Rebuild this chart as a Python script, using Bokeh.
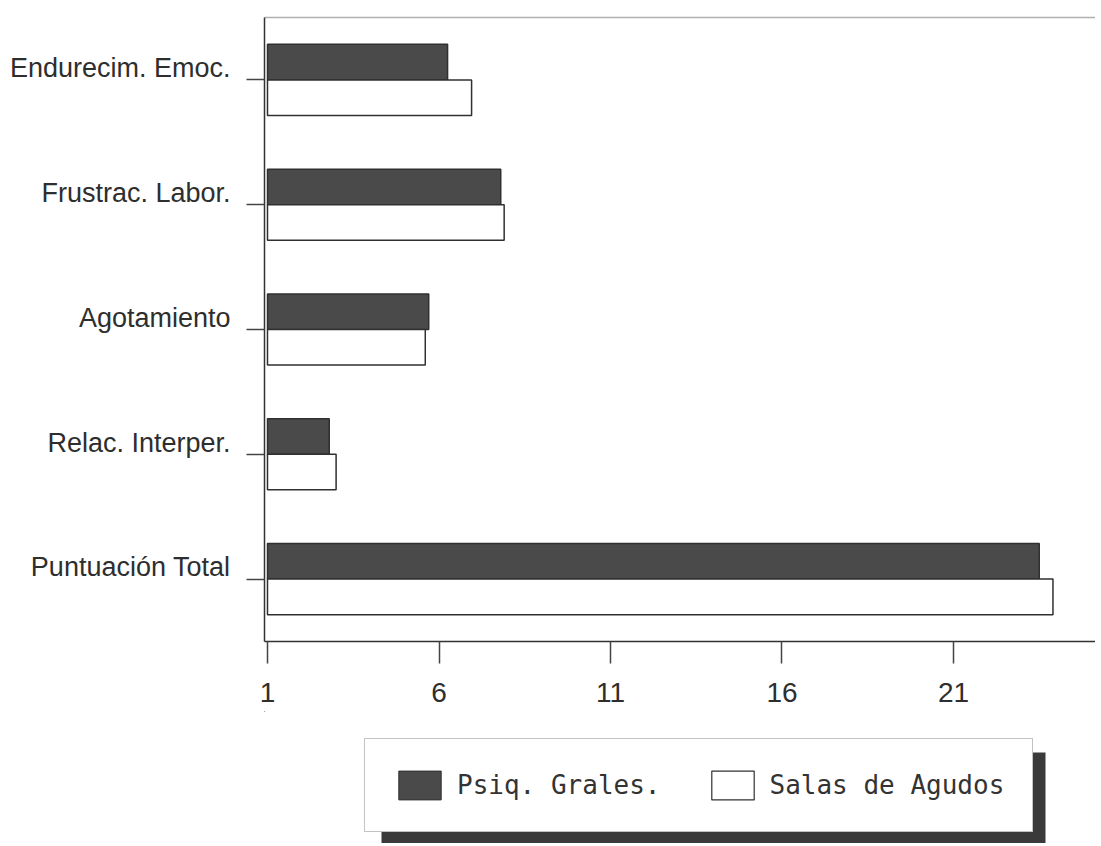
from bokeh.plotting import figure
from bokeh.models import (Range1d, FixedTicker, LinearAxis, Legend,
                          LegendItem, ColumnDataSource, CustomLabelingPolicy)
from bokeh.transform import dodge
from bokeh.layouts import column
from bokeh.embed import file_html
from bokeh.resources import INLINE

# ---- data ----
categories = ["Endurecim. Emoc.", "Frustrac. Labor.", "Agotamiento",
              "Relac. Interper.", "Puntuación Total"]
psiq_grales = [6.25, 7.8, 5.7, 2.8, 23.5]
salas_agudos = [6.95, 7.9, 5.6, 3.0, 23.9]
x_ticks = [1, 6, 11, 16, 21]
series_names = ["Psiq. Grales.", "Salas de Agudos"]

DARK = "#4a4a4a"
EDGE = "#303030"
TXT = "#2e2e2e"

n = len(categories)
# category slots on the y scale, first category at the top
slot = [n - 0.5 - i for i in range(n)]

p = figure(width=1095, height=711,
           y_range=Range1d(0, n),
           x_range=Range1d(0.9125, 25.14),
           output_backend="svg", toolbar_location=None,
           min_border_left=264, min_border_top=17,
           min_border_right=0, min_border_bottom=70)

src = ColumnDataSource(dict(cat=categories, pos=slot, psiq=psiq_grales, salas=salas_agudos))
p.hbar(y=dodge("pos", 0.1425), left=x_ticks[0], right="psiq",
       height=0.285, source=src, fill_color=DARK, line_color=EDGE, line_width=1.5)
p.hbar(y=dodge("pos", -0.1425), left=x_ticks[0], right="salas",
       height=0.285, source=src, fill_color="white", line_color=EDGE, line_width=1.5)

p.xgrid.visible = False
p.ygrid.visible = False
p.outline_line_color = None
p.background_fill_color = "white"

# x axis
p.xaxis.ticker = FixedTicker(ticks=x_ticks)
p.xaxis.major_tick_out = 22
p.xaxis.major_tick_in = 0
p.xaxis.minor_tick_out = 0
p.xaxis.minor_tick_in = 0
p.xaxis.major_label_text_font = "Liberation Sans"
p.xaxis.major_label_text_font_size = "28px"
p.xaxis.major_label_text_color = TXT
p.xaxis.major_label_standoff = 19

# y axis: tick marks at each category, no labels of its own
no_labels = CustomLabelingPolicy(code="""
const all = [...indices]
for (const i of all) indices.unset(i)
return indices
""")
p.yaxis.ticker = FixedTicker(ticks=slot)
p.yaxis.major_tick_out = 18
p.yaxis.major_tick_in = 0
p.yaxis.minor_tick_out = 0
p.yaxis.minor_tick_in = 0
p.yaxis.major_label_standoff = 0
p.yaxis.major_label_text_font_size = "1px"
p.yaxis.major_label_overrides = {s: " " for s in slot}
p.yaxis.major_label_policy = no_labels

for ax in (p.xaxis[0], p.yaxis[0]):
    ax.axis_line_color = "#333333"
    ax.axis_line_width = 1.5
    ax.major_tick_line_color = "#444444"
    ax.major_tick_line_width = 1.5

# category names: a label-only axis, text sitting on each tick mark
label_pos = [s + 0.09375 for s in slot]
label_axis = LinearAxis(ticker=FixedTicker(ticks=label_pos),
                        major_label_overrides={pos: name for pos, name in zip(label_pos, categories)},
                        axis_line_color=None, major_tick_out=0, major_tick_in=0,
                        minor_tick_out=0, minor_tick_in=0, major_label_standoff=13,
                        major_label_text_font="Liberation Sans",
                        major_label_text_font_size="27px",
                        major_label_text_color=TXT)
p.add_layout(label_axis, "left")

top_axis = LinearAxis(ticker=FixedTicker(ticks=[]), axis_line_color="#b0b0b0",
                      axis_line_width=1.5, major_tick_out=0, major_tick_in=0,
                      minor_tick_out=0, minor_tick_in=0)
p.add_layout(top_axis, "above")

# ---- legend panel (coordinates in page pixels) ----
p2 = figure(width=1095, height=132, x_range=Range1d(265, 1096), y_range=Range1d(844, 712),
            output_backend="svg", toolbar_location=None, min_border=0,
            min_border_left=264, min_border_right=0,
            x_axis_location=None, y_axis_location=None)
p2.grid.visible = False
p2.outline_line_color = None
# drop shadow behind the legend box
p2.quad(left=[382], right=[1046], top=[753], bottom=[870],
        fill_color="#3a3a3a", line_color=None)
hidden = dict(y=[-1000], right=[-1000])
r1 = p2.hbar(y="y", right="right", height=1, source=ColumnDataSource(hidden),
             fill_color=DARK, line_color=EDGE, line_width=1)
r2 = p2.hbar(y="y", right="right", height=1, source=ColumnDataSource(hidden),
             fill_color="white", line_color=EDGE, line_width=1.2)
legend = Legend(items=[LegendItem(label=series_names[0], renderers=[r1]),
                       LegendItem(label=series_names[1], renderers=[r2])],
                orientation="horizontal", location=(100, 11),
                glyph_width=53, glyph_height=36, label_standoff=11, spacing=45,
                padding=28, margin=0,
                label_text_font="DejaVu Sans Mono", label_text_font_size="26px",
                label_text_color="#333333",
                border_line_color="#888888", border_line_width=1.5,
                background_fill_color="white", background_fill_alpha=1)
p2.add_layout(legend)

layout = column(p, p2, spacing=0)
open("out.html", "w").write(file_html(layout, INLINE))
